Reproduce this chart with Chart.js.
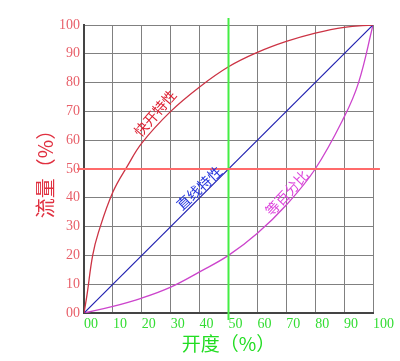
<!DOCTYPE html>
<html>
<head>
<meta charset="utf-8">
<script src="https://cdn.jsdelivr.net/npm/chart.js@4.4.0/dist/chart.umd.min.js"></script>
<style>
  html, body { margin: 0; padding: 0; background: #fff; }
  #wrap { width: 400px; height: 361px; }
</style>
</head>
<body>
<div id="wrap"><canvas id="myChart"></canvas></div>
<script>
// opening (%) vs flow (%)
var quickX = [0, 1, 3, 5, 10, 15, 20, 30, 40, 50, 60, 70, 80, 90, 100];
var quickFlow = [0, 6, 20, 28, 42, 51, 59, 70, 78.5, 85.5, 90.5, 94.3, 97.2, 99.2, 100];

var linearX = [0, 100];
var linearFlow = [0, 100];

var eqX = [0, 10, 20, 30, 40, 50, 60, 70, 80, 90, 95, 100];
var eqFlow = [0, 2.3, 5.2, 9, 14.3, 20, 27.7, 37.5, 50, 68, 80, 100];

var labelNames = ['快开特性', '直线特性', '等百分比'];
var labelX = [24.6, 39.8, 70.2];
var labelY = [69.4, 43.4, 41.7];
var labelAngle = [-49, -43, -47];
var labelColor = ['#dd2233', '#2233dd', '#dd44dd'];

var markerX = 50;   // green opening marker
var markerY = 50;   // red flow marker

function pts(xs, ys) {
    var out = [];
    for (var i = 0; i < xs.length; i++) out.push({x: xs[i], y: ys[i]});
    return out;
}

const curveLabels = {
    id: 'curveLabels',
    afterDatasetsDraw(chart) {
        var ctx = chart.ctx;
        var xs = chart.scales.x, ys = chart.scales.y;
        ctx.save();
        ctx.font = '14px "Noto Sans CJK SC"';
        ctx.textAlign = 'center';
        ctx.textBaseline = 'middle';
        for (var i = 0; i < labelNames.length; i++) {
            ctx.save();
            ctx.translate(xs.getPixelForValue(labelX[i]), ys.getPixelForValue(labelY[i]));
            ctx.rotate(labelAngle[i] * Math.PI / 180);
            ctx.fillStyle = labelColor[i];
            ctx.fillText(labelNames[i], 0, 0);
            ctx.restore();
        }
        ctx.restore();
    }
};

const data = {
    datasets: [
        {
            data: pts([-2.4, 102.4], [markerY, markerY]),
            borderColor: '#ff6b6b', borderWidth: 2, pointRadius: 0, clip: false
        },
        {
            data: pts([markerX, markerX], [-2.4, 102.4]),
            borderColor: '#44ee44', borderWidth: 2, pointRadius: 0, clip: false
        },
        {
            data: pts(quickX, quickFlow),
            borderColor: '#cc3344', borderWidth: 1.3, pointRadius: 0,
            tension: 0.4
        },
        {
            data: pts(linearX, linearFlow),
            borderColor: '#2020b0', borderWidth: 1.2, pointRadius: 0
        },
        {
            data: pts(eqX, eqFlow),
            borderColor: '#cc44cc', borderWidth: 1.3, pointRadius: 0,
            tension: 0.4
        }
    ]
};

const config = {
    type: 'line',
    data,
    plugins: [curveLabels],
    options: {
        responsive: true,
        maintainAspectRatio: false,
        animation: false,
        layout: { padding: { top: 25, right: 27, left: 0, bottom: 0 } },
        plugins: { legend: { display: false }, tooltip: { enabled: false } },
        scales: {
            x: {
                type: 'linear', min: 0, max: 100,
                afterFit: function(s) { s.height = 48; },
                grid: { color: '#808080', lineWidth: 1, drawTicks: false },
                border: { color: '#444', width: 2 },
                ticks: {
                    stepSize: 10, align: 'start', padding: 3,
                    color: '#33dd33',
                    font: { family: '"Liberation Serif"', size: 14 },
                    callback: function(v) { return v === 0 ? '00' : v; }
                },
                title: {
                    display: true, text: '开度（%）', color: '#22dd22',
                    font: { family: '"Noto Sans CJK SC"', size: 19 },
                    padding: { top: 0, bottom: 6 }
                }
            },
            y: {
                type: 'linear', min: 0, max: 100,
                afterFit: function(s) { s.width = 84; },
                grid: { color: '#808080', lineWidth: 1, drawTicks: false },
                border: { color: '#444', width: 2 },
                ticks: {
                    stepSize: 10, padding: 4,
                    color: '#e8606a',
                    font: { family: '"Liberation Serif"', size: 14 },
                    callback: function(v) { return v === 0 ? '00' : v; }
                },
                title: {
                    display: true, text: '流量（%）', color: '#e03040',
                    font: { family: '"Noto Sans CJK SC"', size: 20 },
                    padding: { top: 33, bottom: 0 }
                }
            }
        }
    }
};

var myChart = new Chart(document.getElementById('myChart'), config);
</script>
</body>
</html>
